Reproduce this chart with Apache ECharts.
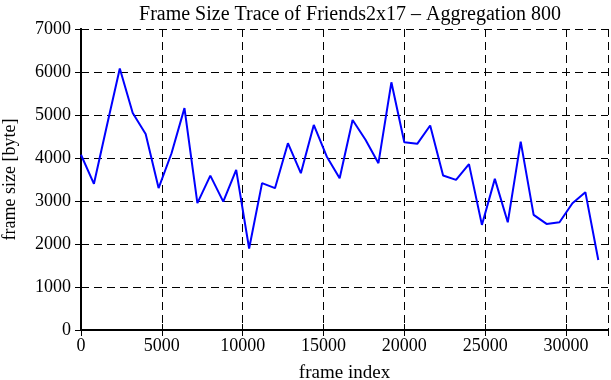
<!DOCTYPE html>
<html>
<head>
<meta charset="utf-8">
<script src="https://cdn.jsdelivr.net/npm/echarts@6/dist/echarts.min.js"></script>
<style>
html,body{margin:0;padding:0;background:#fff;}
#chart{width:611px;height:380px;}
</style>
</head>
<body>
<div id="chart"></div>
<script>
var titleText = 'Frame Size Trace of Friends2x17 \u2013 Aggregation 800';
var xName = 'frame index';
var yName = 'frame size [byte]';
var frameIndex = [0, 800, 1600, 2400, 3200, 4000, 4800, 5600, 6400, 7200,
  8000, 8800, 9600, 10400, 11200, 12000, 12800, 13600, 14400, 15200,
  16000, 16800, 17600, 18400, 19200, 20000, 20800, 21600, 22400, 23200,
  24000, 24800, 25600, 26400, 27200, 28000, 28800, 29600, 30400, 31200, 32000];
var frameSize = [4075, 3400, 4750, 6080, 5045, 4560, 3300, 4110, 5160, 2950,
  3590, 2985, 3725, 1895, 3415, 3298, 4345, 3648, 4770, 4035,
  3530, 4885, 4423, 3880, 5760, 4368, 4330, 4755, 3592, 3492,
  3857, 2444, 3515, 2505, 4380, 2677, 2467, 2507, 2949, 3205, 1629];
var xMin = 0, xMax = 32600, xStep = 5000;
var yMin = 0, yMax = 7000, yStep = 1000;

var font = 'Liberation Serif';
var data = frameIndex.map(function (x, i) { return [x, frameSize[i]]; });
var plain = function (v) { return String(v); };

var chart = echarts.init(document.getElementById('chart'), null, {renderer: 'canvas'});
var lineBlack = {show: true, lineStyle: {color: '#000', width: 2}};
chart.setOption({
  animation: false,
  backgroundColor: '#fff',
  title: {
    text: titleText, left: 345, top: 0, textAlign: 'center',
    textStyle: {fontFamily: font, fontSize: 20, fontWeight: 'normal', color: '#000'}
  },
  grid: {left: 81, right: 3, top: 29, bottom: 50, containLabel: false, outerBoundsMode: 'none'},
  xAxis: [{
    type: 'value', min: xMin, max: xMax, interval: xStep, position: 'bottom',
    name: xName, nameLocation: 'middle', nameGap: 34,
    nameTextStyle: {fontFamily: font, fontSize: 19, color: '#000'},
    axisLine: lineBlack,
    axisTick: {show: true, inside: true, length: 6, lineStyle: {color: '#000', width: 1}},
    axisLabel: {show: true, margin: 7, fontFamily: font, fontSize: 18, color: '#000', showMaxLabel: false, formatter: plain},
    splitLine: {show: true, lineStyle: {color: '#000', width: 1, type: [8, 5]}}
  }, {
    type: 'value', min: xMin, max: xMax, interval: xStep, position: 'top',
    axisLine: lineBlack,
    axisTick: {show: true, inside: true, length: 6, lineStyle: {color: '#000', width: 1}},
    axisLabel: {show: false}, splitLine: {show: false}
  }],
  yAxis: [{
    type: 'value', min: yMin, max: yMax, interval: yStep, position: 'left',
    name: yName, nameLocation: 'middle', nameGap: 62, nameRotate: 90,
    nameTextStyle: {fontFamily: font, fontSize: 18, color: '#000'},
    axisLine: lineBlack,
    axisTick: {show: true, inside: true, length: 6, lineStyle: {color: '#000', width: 1}},
    axisLabel: {show: true, margin: 10, fontFamily: font, fontSize: 18, color: '#000', formatter: plain},
    splitLine: {show: true, lineStyle: {color: '#000', width: 1, type: [8, 5]}}
  }, {
    type: 'value', min: yMin, max: yMax, interval: yStep, position: 'right',
    axisLine: lineBlack,
    axisTick: {show: true, inside: true, length: 6, lineStyle: {color: '#000', width: 1}},
    axisLabel: {show: false}, splitLine: {show: false}
  }],
  series: [{
    type: 'line', data: data, xAxisIndex: 0, yAxisIndex: 0,
    symbol: 'none', smooth: false,
    lineStyle: {color: '#0000ff', width: 2},
    itemStyle: {color: '#0000ff'}
  }]
});
</script>
</body>
</html>
